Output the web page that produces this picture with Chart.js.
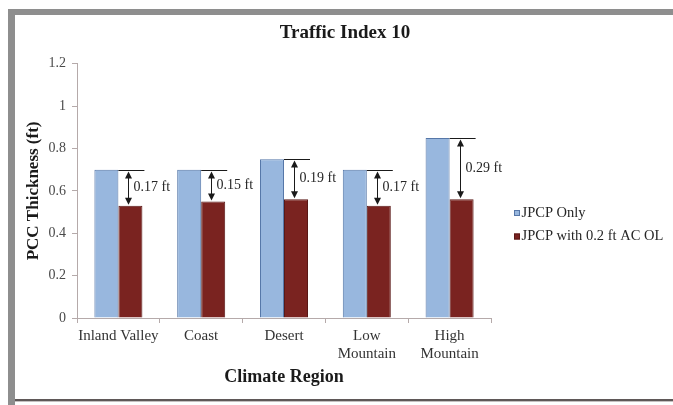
<!DOCTYPE html>
<html>
<head>
<meta charset="utf-8">
<script src="https://cdn.jsdelivr.net/npm/chart.js@4/dist/chart.umd.min.js"></script>
<style>
  html, body { margin: 0; padding: 0; background: #ffffff; }
  #wrap { position: relative; width: 673px; height: 405px; }
</style>
</head>
<body>
<div id="wrap"><canvas id="c" width="673" height="405"></canvas></div>
<script>
// Climate regions (multi-line labels where the axis wraps them)
const regions = [['Inland Valley'], ['Coast'], ['Desert'], ['Low', 'Mountain'], ['High', 'Mountain']];
// PCC slab thickness, ft
const jpcpOnly = [0.70, 0.70, 0.75, 0.70, 0.85];
const jpcpWithOverlay = [0.53, 0.55, 0.56, 0.53, 0.56];
const seriesNames = ['JPCP Only', 'JPCP with 0.2 ft AC OL'];
const yMin = 0, yMax = 1.2, yStep = 0.2;

const SERIF = "'Liberation Serif', 'Times New Roman', serif";

// Grey frame around the figure
const framePlugin = {
  id: 'frame',
  beforeDraw(chart) {
    const ctx = chart.ctx;
    ctx.save();
    ctx.fillStyle = '#ffffff';
    ctx.fillRect(0, 0, chart.width, chart.height);
    ctx.fillStyle = '#8e8e8e';
    ctx.fillRect(8, 9, chart.width - 8, 6);
    ctx.fillRect(8, 9, 7, chart.height - 9);
    ctx.fillStyle = '#5f5858';
    ctx.fillRect(15, 399, chart.width - 15, 2);
    ctx.fillStyle = '#c4c0c0';
    ctx.fillRect(15, 401, chart.width - 15, 1);
    ctx.restore();
  }
};

// Centre the title over the figure body
const placePlugin = {
  id: 'place',
  afterLayout(chart) {
    const t = chart.titleBlock;
    if (t) { t.left = 60; t.right = 630; t.width = 570; }
  }
};

// Series key on the right
const keyPlugin = {
  id: 'key',
  afterDraw(chart) {
    const ctx = chart.ctx;
    const x0 = 514, y0 = 213, step = 23.5, box = 6;
    ctx.save();
    ctx.font = '14.5px ' + SERIF;
    ctx.textAlign = 'left';
    ctx.textBaseline = 'middle';
    chart.data.datasets.forEach((ds, i) => {
      const y = y0 + i * step;
      ctx.fillStyle = ds.backgroundColor;
      ctx.fillRect(x0, y - box / 2, box, box);
      ctx.strokeStyle = ds.borderColor;
      ctx.lineWidth = 1;
      ctx.strokeRect(x0 + 0.5, y - box / 2 + 0.5, box - 1, box - 1);
      ctx.fillStyle = '#262626';
      ctx.fillText(ds.label, x0 + box + 1.5, y);
    });
    ctx.restore();
  }
};

// Double-headed arrows showing the thickness reduction
const arrowPlugin = {
  id: 'reduction',
  afterDatasetsDraw(chart) {
    const ctx = chart.ctx;
    const a = chart.getDatasetMeta(0).data;
    const b = chart.getDatasetMeta(1).data;
    ctx.save();
    ctx.strokeStyle = '#1a1a1a';
    ctx.fillStyle = '#1a1a1a';
    ctx.lineWidth = 1;
    for (let i = 0; i < a.length; i++) {
      const hi = a[i], lo = b[i];
      const yTop = Math.round(hi.y) + 0.5;
      const yBot = lo.y;
      const xL = hi.x + hi.width / 2;
      const xR = lo.x + lo.width / 2 + 2;
      ctx.beginPath();
      ctx.moveTo(xL, yTop);
      ctx.lineTo(xR, yTop);
      ctx.stroke();
      const ax = Math.round(lo.x - 2) + 0.5;
      const head = 7, hw = 3.5;
      ctx.beginPath();
      ctx.moveTo(ax, yTop + head);
      ctx.lineTo(ax, yBot - head);
      ctx.stroke();
      ctx.beginPath();
      ctx.moveTo(ax, yTop + 1);
      ctx.lineTo(ax - hw, yTop + head + 1);
      ctx.lineTo(ax + hw, yTop + head + 1);
      ctx.closePath();
      ctx.fill();
      ctx.beginPath();
      ctx.moveTo(ax, yBot - 1);
      ctx.lineTo(ax - hw, yBot - head - 1);
      ctx.lineTo(ax + hw, yBot - head - 1);
      ctx.closePath();
      ctx.fill();
      const d = Math.round((jpcpOnly[i] - jpcpWithOverlay[i]) * 100) / 100;
      ctx.font = '14px ' + SERIF;
      ctx.textAlign = 'left';
      ctx.textBaseline = 'middle';
      ctx.fillStyle = '#262626';
      ctx.fillText(d.toFixed(2) + ' ft', ax + 5, (yTop + yBot) / 2 - 1);
      ctx.fillStyle = '#1a1a1a';
    }
    ctx.restore();
  }
};

new Chart(document.getElementById('c'), {
  type: 'bar',
  data: {
    labels: regions,
    datasets: [
      {
        label: seriesNames[0],
        data: jpcpOnly,
        backgroundColor: '#98b7de',
        borderColor: '#5677a8',
        borderWidth: 1
      },
      {
        label: seriesNames[1],
        data: jpcpWithOverlay,
        backgroundColor: '#7a2320',
        borderColor: '#5a1816',
        borderWidth: 1
      }
    ]
  },
  options: {
    responsive: false,
    animation: false,
    devicePixelRatio: 1,
    layout: { padding: { left: 18, right: 182, top: 15, bottom: 5 } },
    datasets: { bar: { categoryPercentage: 0.58, barPercentage: 1.0 } },
    plugins: {
      title: {
        display: true,
        text: 'Traffic Index 10',
        color: '#1a1a1a',
        font: { family: SERIF, size: 19, weight: 'bold' },
        padding: { top: 7, bottom: 19 }
      },
      legend: { display: false },
      tooltip: { enabled: false }
    },
    scales: {
      x: {
        grid: { display: true, drawOnChartArea: false, drawTicks: true, tickLength: 5, color: '#b5aaaa', offset: true },
        border: { color: '#b5aaaa', width: 1 },
        ticks: {
          autoSkip: false,
          color: '#333333',
          padding: 4,
          maxRotation: 0,
          font: { family: SERIF, size: 15, lineHeight: 1.2 }
        },
        title: {
          display: true,
          text: 'Climate Region',
          color: '#1a1a1a',
          font: { family: SERIF, size: 18, weight: 'bold' },
          padding: { top: 4, bottom: 12 }
        },
        afterFit(scale) { scale.height = 400 - 318; }
      },
      y: {
        min: yMin,
        max: yMax,
        grid: { display: true, drawOnChartArea: false, drawTicks: true, tickLength: 5, color: '#b5aaaa' },
        border: { color: '#b5aaaa', width: 1 },
        ticks: {
          stepSize: yStep,
          color: '#4a4a4a',
          padding: 6,
          font: { family: SERIF, size: 14 },
          callback: (v) => String(Math.round(v * 10) / 10)
        },
        title: {
          display: true,
          text: 'PCC Thickness (ft)',
          color: '#1a1a1a',
          font: { family: SERIF, size: 17, weight: 'bold' },
          padding: { top: 5, bottom: 2 }
        },
        afterFit(scale) { scale.width = 77 - 18; }
      }
    }
  },
  plugins: [framePlugin, placePlugin, keyPlugin, arrowPlugin]
});
</script>
</body>
</html>
